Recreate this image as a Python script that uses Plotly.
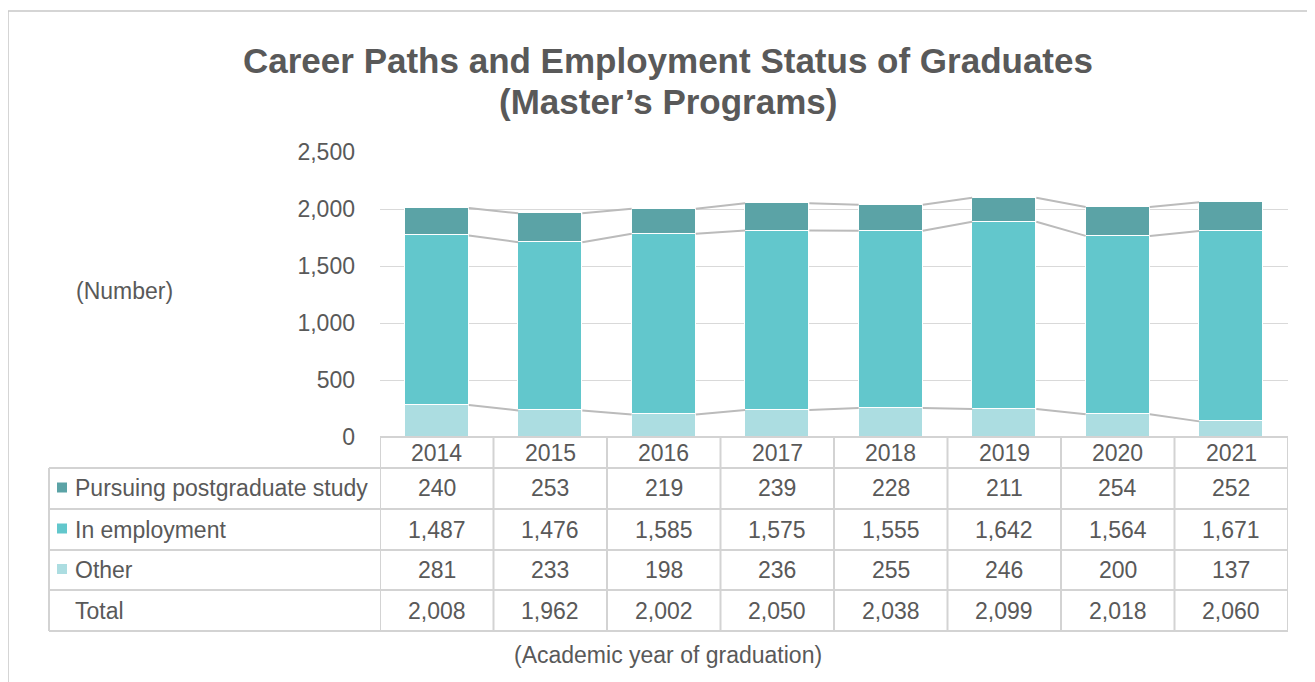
import plotly.graph_objects as go

years = ["2014", "2015", "2016", "2017", "2018", "2019", "2020", "2021"]
pursuing = [240, 253, 219, 239, 228, 211, 254, 252]
employment = [1487, 1476, 1585, 1575, 1555, 1642, 1564, 1671]
other = [281, 233, 198, 236, 255, 246, 200, 137]
totals = [2008, 1962, 2002, 2050, 2038, 2099, 2018, 2060]
series_names = ["Pursuing postgraduate study", "In employment", "Other"]
series_colors = ["#5BA3A6", "#62C7CC", "#ACDDE1"]
y_ticks = [0, 500, 1000, 1500, 2000, 2500]

TXT = "#595959"
FONT = "Liberation Sans, Arial, sans-serif"
FS = 23
GRID = "#D9D9D9"
BORDER = "#D3D3D3"
OFF = 8  # page body margin
W = 1315 - OFF
H = 682 - OFF
L, R, T, B = 380 - OFF, 27, 152 - OFF, 245
PW = W - L - R
PH = H - T - B
BAR_W = 0.565

# convert screen pixels to paper coordinates
def py(pix):
    return (437 - pix) / PH

def px(pix):
    return (pix - 380) / PW

xs = list(range(len(years)))
fig = go.Figure()
for vals, name, col in [(other, series_names[2], series_colors[2]),
                        (employment, series_names[1], series_colors[1]),
                        (pursuing, series_names[0], series_colors[0])]:
    fig.add_trace(go.Bar(x=xs, y=vals, name=name, width=BAR_W,
                         marker=dict(color=col, line=dict(color="white", width=1.5)),
                         showlegend=False))

lvl1 = other
lvl2 = [o + e for o, e in zip(other, employment)]
lvl3 = [o + e + p for o, e, p in zip(other, employment, pursuing)]
for lvl in (lvl1, lvl2, lvl3):
    lx, ly = [], []
    for i in range(len(xs) - 1):
        lx += [xs[i] + BAR_W / 2, xs[i + 1] - BAR_W / 2, None]
        ly += [lvl[i], lvl[i + 1], None]
    fig.add_trace(go.Scatter(x=lx, y=ly, mode="lines", line=dict(color="#BBBBBB", width=2),
                             showlegend=False, hoverinfo="skip"))

shapes = []
ann = []
shapes.append(dict(type="rect", xref="paper", yref="paper", x0=px(8), x1=px(1340), y0=py(11), y1=py(700),
                   line=dict(color="#C8C8C8", width=1.5), fillcolor="rgba(0,0,0,0)", layer="below"))

row_edges = [437, 468, 509, 550, 590, 631]
left_edge = 49
shapes.append(dict(type="line", xref="x", yref="paper", x0=-0.5, x1=len(xs) - 0.5, y0=py(437), y1=py(437),
                   line=dict(color=BORDER, width=2)))
for ry in row_edges[1:]:
    shapes.append(dict(type="line", xref="paper", yref="paper", x0=px(left_edge), x1=1, y0=py(ry), y1=py(ry),
                       line=dict(color=BORDER, width=2)))
for i in range(len(xs) + 1):
    shapes.append(dict(type="line", xref="x", yref="paper", x0=i - 0.5, x1=i - 0.5, y0=py(437), y1=py(631),
                       line=dict(color=BORDER, width=2)))
shapes.append(dict(type="line", xref="paper", yref="paper", x0=px(left_edge), x1=px(left_edge),
                   y0=py(468), y1=py(631), line=dict(color=BORDER, width=2)))

def cy(k):
    return py((row_edges[k] + row_edges[k + 1]) / 2)

def txt(x, y, text, xref="paper", xanchor="center", size=FS):
    return dict(x=x, y=y, xref=xref, yref="paper", text=text, showarrow=False,
                xanchor=xanchor, yanchor="middle", font=dict(size=size, color=TXT, family=FONT))

for i, yr in enumerate(years):
    ann.append(txt(xs[i], cy(0), yr, xref="x"))
rows = [pursuing, employment, other, totals]
labels = series_names + ["Total"]
for r, (vals, lab) in enumerate(zip(rows, labels)):
    yc = cy(r + 1)
    for i, v in enumerate(vals):
        ann.append(txt(xs[i], yc, f"{v:,}", xref="x"))
    ann.append(txt(px(73), yc, lab, xanchor="left"))
    if r < 3:
        pix_c = (row_edges[r + 1] + row_edges[r + 2]) / 2
        shapes.append(dict(type="rect", xref="paper", yref="paper", x0=px(57), x1=px(67),
                           y0=py(pix_c - 6), y1=py(pix_c + 4), line=dict(width=0),
                           fillcolor=series_colors[r]))

ann.append(txt(px(668), py(60), "<b>Career Paths and Employment Status of Graduates</b>", size=35))
ann.append(txt(px(668), py(102), "<b>(Master’s Programs)</b>", size=35))
ann.append(txt(px(124), py(291), "(Number)"))
ann.append(txt(px(668), py(655), "(Academic year of graduation)"))

fig.update_layout(
    width=W, height=H, margin=dict(l=L, r=R, t=T, b=B),
    plot_bgcolor="white", paper_bgcolor="white", barmode="stack", bargap=0,
    font=dict(family=FONT, color=TXT, size=FS),
    xaxis=dict(range=[-0.5, len(xs) - 0.5], showticklabels=False, showgrid=False, zeroline=False,
               showline=False, ticks=""),
    yaxis=dict(range=[0, 2500], tickvals=y_ticks, tickformat=",", showgrid=True, gridcolor=GRID,
               gridwidth=1, zeroline=False, showline=False, ticks="", ticklabelstandoff=24,
               tickfont=dict(size=FS, color=TXT, family=FONT)),
    shapes=shapes, annotations=ann, showlegend=False,
)
fig.write_html("out.html")
